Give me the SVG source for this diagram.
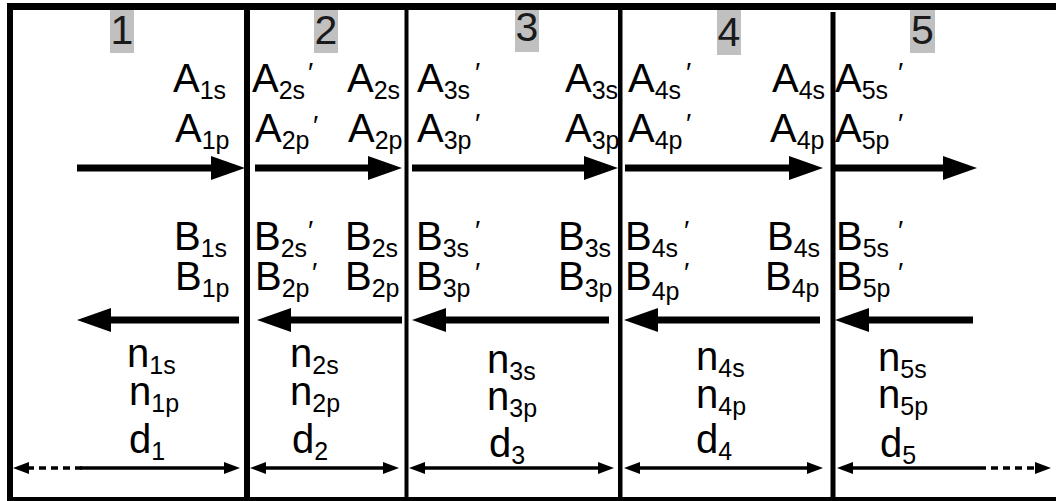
<svg xmlns="http://www.w3.org/2000/svg" width="1056" height="501" viewBox="0 0 1056 501">
<style>
text{font-family:"Liberation Sans",Arial,sans-serif;fill:#000}
.t{font-size:40px}
.s{font-size:25px}
.pr{font-size:28px}
.num{font-size:41px;fill:#1a1a1a;text-anchor:middle}
.box{fill:#c0c0c0}
.frame{fill:#000}
.big{stroke:#000;stroke-width:7;fill:none}
.dim{stroke:#000;stroke-width:3.5;fill:none}
.dash{stroke:#000;stroke-width:3.5;fill:none;stroke-dasharray:7 5}
</style>
<defs>
<marker id="bh" viewBox="0 0 34 24" refX="2" refY="12" markerWidth="34" markerHeight="24" markerUnits="userSpaceOnUse" orient="auto"><path d="M0,0 L34,12 L0,24 z" fill="#000"/></marker>
<marker id="sh" viewBox="0 0 16 12" refX="2" refY="6" markerWidth="16" markerHeight="12" markerUnits="userSpaceOnUse" orient="auto-start-reverse"><path d="M0,0 L16,6 L0,12 z" fill="#000"/></marker>
</defs>
<rect width="1056" height="501" fill="#fff"/>
<g id="headers">
<rect class="box" x="110" y="5" width="24" height="48"/><text class="num" x="122" y="44">1</text>
<rect class="box" x="314" y="7" width="24" height="46"/><text class="num" x="326" y="44">2</text>
<rect class="box" x="515" y="7" width="24" height="45"/><text class="num" x="527" y="41">3</text>
<rect class="box" x="717" y="10" width="24" height="45"/><text class="num" x="729" y="46">4</text>
<rect class="box" x="910" y="7" width="25" height="46"/><text class="num" x="922.5" y="44">5</text>
</g>
<g id="frame">
<rect class="frame" x="7" y="3" width="1049" height="7"/>
<rect class="frame" x="7" y="3" width="6" height="498"/>
<rect class="frame" x="7" y="497" width="1049" height="4"/>
<rect class="frame" x="244" y="10" width="6" height="487"/>
<rect class="frame" x="404.5" y="10" width="4" height="487"/>
<rect class="frame" x="618" y="10" width="4.5" height="487"/>
<rect class="frame" x="830.5" y="12" width="5" height="485"/>
</g>
<g id="connectors">
<line class="big" x1="77" y1="168" x2="213" y2="168" marker-end="url(#bh)"/>
<line class="big" x1="255" y1="168" x2="370" y2="168" marker-end="url(#bh)"/>
<line class="big" x1="412" y1="168" x2="586" y2="168" marker-end="url(#bh)"/>
<line class="big" x1="625" y1="168" x2="791" y2="168" marker-end="url(#bh)"/>
<line class="big" x1="835" y1="168" x2="945" y2="168" marker-end="url(#bh)"/>
<line class="big" x1="239" y1="320" x2="109" y2="320" marker-end="url(#bh)"/>
<line class="big" x1="402" y1="320" x2="289" y2="320" marker-end="url(#bh)"/>
<line class="big" x1="609" y1="320" x2="444" y2="320" marker-end="url(#bh)"/>
<line class="big" x1="820" y1="320" x2="656" y2="320" marker-end="url(#bh)"/>
<line class="big" x1="973" y1="320" x2="867" y2="320" marker-end="url(#bh)"/>
<line class="dash" x1="27" y1="468" x2="82" y2="468" marker-start="url(#sh)"/>
<line class="dim" x1="80" y1="468" x2="226" y2="468" marker-end="url(#sh)"/>
<line class="dim" x1="264" y1="468" x2="385" y2="468" marker-start="url(#sh)" marker-end="url(#sh)"/>
<line class="dim" x1="423" y1="468" x2="600" y2="468" marker-start="url(#sh)" marker-end="url(#sh)"/>
<line class="dim" x1="638" y1="468" x2="809" y2="468" marker-start="url(#sh)" marker-end="url(#sh)"/>
<line class="dim" x1="851" y1="468" x2="979" y2="468" marker-start="url(#sh)"/>
<line class="dash" x1="979" y1="468" x2="1037" y2="468" marker-end="url(#sh)"/>
</g>
<g id="col1">
<text class="t" x="173" y="92">A<tspan class="s" dy="7">1s</tspan></text>
<text class="t" x="175" y="142">A<tspan class="s" dy="7">1p</tspan></text>
<text class="t" x="174" y="250">B<tspan class="s" dy="7">1s</tspan></text>
<text class="t" x="175" y="290">B<tspan class="s" dy="7">1p</tspan></text>
<text class="t" x="127" y="367">n<tspan class="s" dy="7">1s</tspan></text>
<text class="t" x="129" y="405">n<tspan class="s" dy="7">1p</tspan></text>
<text class="t" x="129" y="453">d<tspan class="s" dy="7">1</tspan></text>
</g>
<g id="col2">
<text class="t" x="252" y="92">A<tspan class="s" dy="7">2s</tspan></text><text class="pr" x="308" y="82">′</text>
<text class="t" x="347" y="92">A<tspan class="s" dy="7">2s</tspan></text>
<text class="t" x="255" y="142">A<tspan class="s" dy="7">2p</tspan></text><text class="pr" x="313" y="135">′</text>
<text class="t" x="348" y="142">A<tspan class="s" dy="7">2p</tspan></text>
<text class="t" x="254" y="250">B<tspan class="s" dy="7">2s</tspan></text><text class="pr" x="308" y="240">′</text>
<text class="t" x="345" y="250">B<tspan class="s" dy="7">2s</tspan></text>
<text class="t" x="255" y="290">B<tspan class="s" dy="7">2p</tspan></text><text class="pr" x="312" y="282">′</text>
<text class="t" x="345" y="290">B<tspan class="s" dy="7">2p</tspan></text>
<text class="t" x="290" y="367">n<tspan class="s" dy="7">2s</tspan></text>
<text class="t" x="290" y="405">n<tspan class="s" dy="7">2p</tspan></text>
<text class="t" x="292" y="453">d<tspan class="s" dy="7">2</tspan></text>
</g>
<g id="col3">
<text class="t" x="417" y="92">A<tspan class="s" dy="7">3s</tspan></text><text class="pr" x="475" y="82">′</text>
<text class="t" x="565" y="92">A<tspan class="s" dy="7">3s</tspan></text>
<text class="t" x="417" y="142">A<tspan class="s" dy="7">3p</tspan></text><text class="pr" x="475" y="133">′</text>
<text class="t" x="565" y="142">A<tspan class="s" dy="7">3p</tspan></text>
<text class="t" x="416" y="250">B<tspan class="s" dy="7">3s</tspan></text><text class="pr" x="475" y="240">′</text>
<text class="t" x="558" y="250">B<tspan class="s" dy="7">3s</tspan></text>
<text class="t" x="416" y="290">B<tspan class="s" dy="7">3p</tspan></text><text class="pr" x="475" y="282">′</text>
<text class="t" x="558" y="290">B<tspan class="s" dy="7">3p</tspan></text>
<text class="t" x="487" y="373">n<tspan class="s" dy="7">3s</tspan></text>
<text class="t" x="487" y="410">n<tspan class="s" dy="7">3p</tspan></text>
<text class="t" x="489" y="457">d<tspan class="s" dy="7">3</tspan></text>
</g>
<g id="col4">
<text class="t" x="628" y="92">A<tspan class="s" dy="7">4s</tspan></text><text class="pr" x="686" y="82">′</text>
<text class="t" x="772" y="92">A<tspan class="s" dy="7">4s</tspan></text>
<text class="t" x="628" y="142">A<tspan class="s" dy="7">4p</tspan></text><text class="pr" x="686" y="133">′</text>
<text class="t" x="770" y="142">A<tspan class="s" dy="7">4p</tspan></text>
<text class="t" x="625" y="250">B<tspan class="s" dy="7">4s</tspan></text><text class="pr" x="684" y="240">′</text>
<text class="t" x="767" y="250">B<tspan class="s" dy="7">4s</tspan></text>
<text class="t" x="625" y="290">B<tspan class="s" dy="10">4p</tspan></text><text class="pr" x="684" y="282">′</text>
<text class="t" x="765" y="290">B<tspan class="s" dy="7">4p</tspan></text>
<text class="t" x="696" y="370">n<tspan class="s" dy="7">4s</tspan></text>
<text class="t" x="696" y="408">n<tspan class="s" dy="7">4p</tspan></text>
<text class="t" x="696" y="453">d<tspan class="s" dy="7">4</tspan></text>
</g>
<g id="col5">
<text class="t" x="835" y="92">A<tspan class="s" dy="7">5s</tspan></text><text class="pr" x="898" y="82">′</text>
<text class="t" x="835" y="142">A<tspan class="s" dy="7">5p</tspan></text><text class="pr" x="898" y="133">′</text>
<text class="t" x="836" y="250">B<tspan class="s" dy="7">5s</tspan></text><text class="pr" x="898" y="240">′</text>
<text class="t" x="836" y="290">B<tspan class="s" dy="7">5p</tspan></text><text class="pr" x="898" y="282">′</text>
<text class="t" x="878" y="371">n<tspan class="s" dy="7">5s</tspan></text>
<text class="t" x="878" y="408">n<tspan class="s" dy="7">5p</tspan></text>
<text class="t" x="880" y="457">d<tspan class="s" dy="7">5</tspan></text>
</g>
</svg>
